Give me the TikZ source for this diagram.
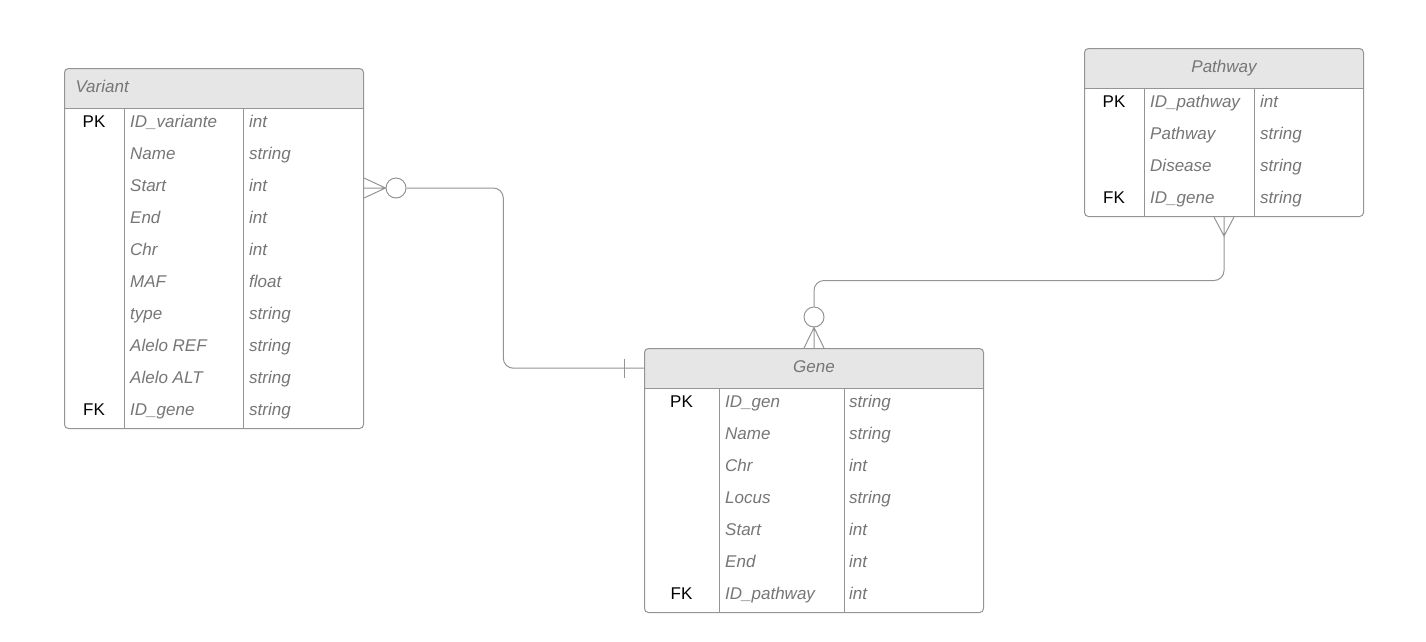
\documentclass[tikz,border=0pt]{standalone}
\usepackage{fontspec}
\setmainfont{Liberation Sans}
\usetikzlibrary{calc}

\definecolor{erline}{HTML}{949494}
\definecolor{erhead}{HTML}{E6E6E6}
\definecolor{ertext}{HTML}{767676}
\newcommand\erfont{\fontsize{17}{20}\selectfont}

\tikzset{
  entity/.style={draw=erline, line width=1pt, rounded corners=4pt, fill=white,
    anchor=north west, inner sep=0pt,
    path picture={\fill[erhead, sharp corners] (path picture bounding box.north west)
      rectangle ([yshift=-40pt]path picture bounding box.north east);}},
  entityhead/.style={anchor=north, minimum height=40pt, inner sep=0pt, text=ertext,
    font=\erfont\itshape, text height=12pt, text depth=4pt},
  keytext/.style={anchor=base, text=black, inner sep=0pt, font=\erfont},
  fieldtext/.style={anchor=base west, text=ertext, inner sep=0pt, font=\erfont\itshape},
  relline/.style={draw=erline, line width=1pt},
  zeromark/.style={circle, draw=erline, line width=1pt, minimum size=20pt, inner sep=0pt},
}

\begin{document}
\begin{tikzpicture}[x=1pt, y=1pt]
    \useasboundingbox (0,0) rectangle (1426,-641);

    % Variant
    \node[entity, minimum width=299pt, minimum height=360pt] (variant) at (64,-68) {};
    \node[entityhead, minimum width=299pt, text width=277pt, align=left] (varianthead) at (variant.north) {Variant};
    \draw[relline] ([yshift=-40pt]variant.north west) -- ([yshift=-40pt]variant.north east);
    \draw[relline] ([xshift=60pt,yshift=-40pt]variant.north west) -- ([xshift=60pt]variant.south west);
    \draw[relline] ([xshift=179pt,yshift=-40pt]variant.north west) -- ([xshift=179pt]variant.south west);
    \foreach \k/\f/\t [count=\i] in {PK/ID\_variante/int, /Name/string, /Start/int, /End/int,
        /Chr/int, /MAF/float, /type/string, /Alelo REF/string, /Alelo ALT/string, FK/ID\_gene/string}{
        \node[keytext] (variant-key-\i) at (94,{-95-32*\i}) {\k};
        \node[fieldtext] (variant-field-\i) at (130,{-95-32*\i}) {\f};
        \node[fieldtext] (variant-type-\i) at (249,{-95-32*\i}) {\t};
    }

    % Pathway
    \node[entity, minimum width=279pt, minimum height=168pt] (pathway) at (1084,-48) {};
    \node[entityhead, minimum width=279pt] (pathwayhead) at (pathway.north) {Pathway};
    \draw[relline] ([yshift=-40pt]pathway.north west) -- ([yshift=-40pt]pathway.north east);
    \draw[relline] ([xshift=60pt,yshift=-40pt]pathway.north west) -- ([xshift=60pt]pathway.south west);
    \draw[relline] ([xshift=170pt,yshift=-40pt]pathway.north west) -- ([xshift=170pt]pathway.south west);
    \foreach \k/\f/\t [count=\i] in {PK/ID\_pathway/int, /Pathway/string, /Disease/string, FK/ID\_gene/string}{
        \node[keytext] (pathway-key-\i) at (1114,{-75-32*\i}) {\k};
        \node[fieldtext] (pathway-field-\i) at (1150,{-75-32*\i}) {\f};
        \node[fieldtext] (pathway-type-\i) at (1260,{-75-32*\i}) {\t};
    }

    % Gene
    \node[entity, minimum width=339pt, minimum height=264pt] (gene) at (644,-348) {};
    \node[entityhead, minimum width=339pt] (genehead) at (gene.north) {Gene};
    \draw[relline] ([yshift=-40pt]gene.north west) -- ([yshift=-40pt]gene.north east);
    \draw[relline] ([xshift=75pt,yshift=-40pt]gene.north west) -- ([xshift=75pt]gene.south west);
    \draw[relline] ([xshift=200pt,yshift=-40pt]gene.north west) -- ([xshift=200pt]gene.south west);
    \foreach \k/\f/\t [count=\i] in {PK/ID\_gen/string, /Name/string, /Chr/int, /Locus/string,
        /Start/int, /End/int, FK/ID\_pathway/int}{
        \node[keytext] (gene-key-\i) at (681.5,{-375-32*\i}) {\k};
        \node[fieldtext] (gene-field-\i) at (725,{-375-32*\i}) {\f};
        \node[fieldtext] (gene-type-\i) at (849,{-375-32*\i}) {\t};
    }

    % Variant >o----| Gene
    \coordinate (vfoot) at ([yshift=-120pt]variant.north east);
    \node[zeromark] (vcirc) at ([xshift=32pt]vfoot) {};
    \draw[relline] ([yshift=10pt]vfoot) -- (vcirc.west) -- ([yshift=-10pt]vfoot) (vfoot) -- (vcirc.west);
    \coordinate (gbar) at ([xshift=-20pt]genehead.west);
    \draw[relline, rounded corners=10pt] (vcirc.east) -| ([xshift=-141pt]genehead.west) -- (genehead.west);
    \draw[relline] ([yshift=9.5pt]gbar) -- ([yshift=-9.5pt]gbar);

    % Pathway >----o< Gene
    \coordinate (pfoot) at ([xshift=140pt]pathway.south west);
    \coordinate (ptip) at ([yshift=-19pt]pfoot);
    \draw[relline] ([xshift=-10pt]pfoot) -- (ptip) -- ([xshift=10pt]pfoot) (pfoot) -- (ptip);
    \node[zeromark] (gcirc) at ([yshift=31pt]gene.north) {};
    \coordinate (pbend) at ([yshift=26pt]gcirc.north);
    \draw[relline, rounded corners=10pt] (ptip) |- (pbend) -- (gcirc.north);
    \coordinate (gfoot) at (gene.north);
    \draw[relline] ([xshift=-10pt]gfoot) -- (gcirc.south) -- ([xshift=10pt]gfoot) (gfoot) -- (gcirc.south);
\end{tikzpicture}
\end{document}
